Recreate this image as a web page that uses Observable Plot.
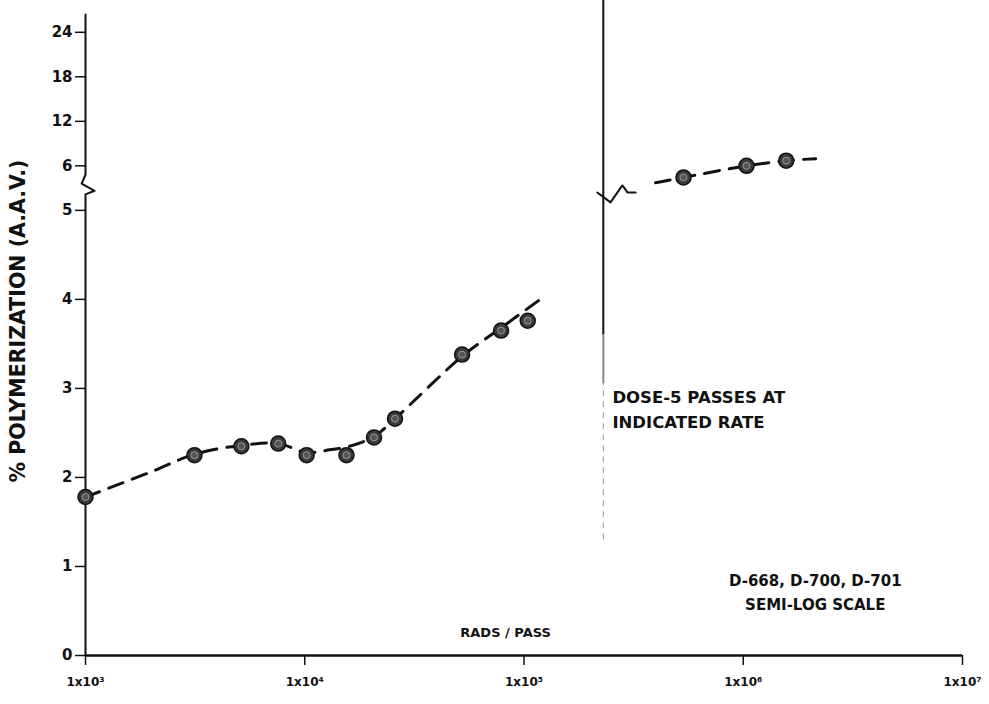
<!DOCTYPE html>
<html>
<head>
<meta charset="utf-8">
<script src="https://cdn.jsdelivr.net/npm/d3@7"></script>
<script src="https://cdn.jsdelivr.net/npm/@observablehq/plot@0.6"></script>
<style>
  html, body { margin: 0; padding: 0; background: #fff; }
  #chart { width: 989px; height: 704px; }
</style>
</head>
<body>
<div id="chart"></div>
<script>
// ---- data ----
const xTicks = [1e3, 1e4, 1e5, 1e6, 1e7];
const xTickLabels = ["1x10³", "1x10⁴", "1x10⁵", "1x10⁶", "1x10⁷"];
const yTickValues = [0, 1, 2, 3, 4, 5, 6, 12, 18, 24];

// measured points, lower segment
const lowerRate = [1000, 3140, 5140, 7570, 10200, 15500, 20700, 25800, 52200, 78600, 104000];
const lowerPoly = [1.78, 2.25, 2.35, 2.38, 2.25, 2.25, 2.45, 2.66, 3.38, 3.65, 3.76];
// dashed fitted curve, lower segment
const lowerCurveRate = [1000, 1980, 3140, 5140, 7570, 10200, 13000, 16000, 20700, 25800, 52200, 78600, 120000];
const lowerCurvePoly = [1.78, 2.06, 2.26, 2.36, 2.38, 2.28, 2.31, 2.35, 2.46, 2.66, 3.36, 3.68, 4.01];

// measured points, upper (broken-scale) segment
const upperRate = [534000, 1035000, 1570000];
const upperPoly = [5.74, 6.0, 6.7];
const upperCurveRate = [398000, 534000, 1035000, 1570000, 2140000];
const upperCurvePoly = [5.62, 5.74, 6.0, 6.7, 6.96];

const doseRate = 2.3e5; // vertical divider

// broken y scale: 0..5 linear, break, then 6..24 compressed
function brk(v) { return v <= 5 ? v : v < 6 ? 5 + (v - 5) * 0.5 : 5.5 + (v - 6) / 12; }

const lowerPts = lowerRate.map((r, i) => ({r, p: brk(lowerPoly[i])}));
const lowerCurve = lowerCurveRate.map((r, i) => ({r, p: brk(lowerCurvePoly[i])}));
const upperPts = upperRate.map((r, i) => ({r, p: brk(upperPoly[i])}));
const upperCurve = upperCurveRate.map((r, i) => ({r, p: brk(upperCurvePoly[i])}));

// axis break glyphs (in scale units)
const yAxisPath = [
  {r: 1000, p: 0}, {r: 1000, p: 5.18}, {r: 1100, p: 5.22}, {r: 960, p: 5.30},
  {r: 1000, p: 5.40}, {r: 1000, p: 7.2}
];
const rightBreak = [
  {r: 216000, p: 5.20}, {r: 248000, p: 5.09}, {r: 281000, p: 5.28},
  {r: 297000, p: 5.20}, {r: 323000, p: 5.20}
];

const labelMap = new Map(yTickValues.map(v => [brk(v).toFixed(3), String(v)]));
const xLabelMap = new Map(xTicks.map((v, i) => [Math.round(Math.log10(v)), xTickLabels[i]]));

const font = "'DejaVu Sans', 'Liberation Sans', sans-serif";

const chart = Plot.plot({
  width: 989,
  height: 704,
  marginLeft: 85,
  marginRight: 27,
  marginTop: 14,
  marginBottom: 49,
  x: {type: "log", domain: [1e3, 1e7]},
  y: {domain: [0, 7.2]},
  style: {background: "#ffffff", fontFamily: font, fontWeight: "bold", color: "#111"},
  marks: [
    Plot.axisX({
      ticks: xTicks, tickFormat: d => xLabelMap.get(Math.round(Math.log10(d))),
      tickSize: 10, tickPadding: 12, fontSize: 12, label: null, strokeWidth: 1.5
    }),
    Plot.axisY({
      ticks: yTickValues.map(brk), tickFormat: p => labelMap.get(p.toFixed(3)),
      tickSize: 10, tickPadding: 3, fontSize: 15, label: null, strokeWidth: 1.5
    }),
    Plot.ruleY([0], {x1: 1e3, x2: 1e7, stroke: "#111", strokeWidth: 2.5}),
    Plot.line(yAxisPath, {x: "r", y: "p", stroke: "#111", strokeWidth: 2}),
    // vertical divider
    Plot.ruleX([doseRate], {y1: 3.6, y2: 7.36, stroke: "#111", strokeWidth: 2}),
    Plot.ruleX([doseRate], {y1: 3.05, y2: 3.6, stroke: "#888", strokeWidth: 2}),
    Plot.ruleX([doseRate], {y1: 1.3, y2: 3.05, stroke: "#999", strokeWidth: 1, strokeDasharray: "6,5"}),
    Plot.line(rightBreak, {x: "r", y: "p", stroke: "#111", strokeWidth: 2}),
    // dashed curves
    Plot.line(lowerCurve, {x: "r", y: "p", curve: "catmull-rom", stroke: "#111", strokeWidth: 3, strokeDasharray: "15,10"}),
    Plot.line(upperCurve, {x: "r", y: "p", curve: "catmull-rom", stroke: "#111", strokeWidth: 3, strokeDasharray: "15,10"}),
    // points
    Plot.dot(lowerPts, {x: "r", y: "p", r: 7.5, fill: "#3a3a3a", stroke: "#111", strokeWidth: 1.5}),
    Plot.dot(lowerPts, {x: "r", y: "p", r: 3.5, fill: "#555", stroke: "#999", strokeWidth: 1}),
    Plot.dot(upperPts, {x: "r", y: "p", r: 7.5, fill: "#3a3a3a", stroke: "#111", strokeWidth: 1.5}),
    Plot.dot(upperPts, {x: "r", y: "p", r: 3.5, fill: "#555", stroke: "#999", strokeWidth: 1}),
    // texts
    Plot.text(["% POLYMERIZATION (A.A.V.)"], {frameAnchor: "left", textAnchor: "middle", dx: -67, dy: -14, rotate: -90, fontSize: 20.5, fontWeight: "bold", fill: "#111"}),
    Plot.text(["RADS / PASS"], {x: [8.24e4], y: [0.25], fontSize: 13, fontWeight: "bold", fill: "#111"}),
    Plot.text(["DOSE-5 PASSES AT\nINDICATED RATE"], {x: [2.53e5], y: [2.92], textAnchor: "start", lineAnchor: "middle", lineHeight: 1.5, fontSize: 16.5, fontWeight: "bold", fill: "#111", dy: 12}),
    Plot.text(["D-668, D-700, D-701\nSEMI-LOG SCALE"], {x: [2.13e6], y: [0.865], textAnchor: "middle", lineAnchor: "middle", lineHeight: 1.6, fontSize: 15, fontWeight: "bold", fill: "#111", dy: 12})
  ]
});
document.getElementById("chart").appendChild(chart);
</script>
</body>
</html>
